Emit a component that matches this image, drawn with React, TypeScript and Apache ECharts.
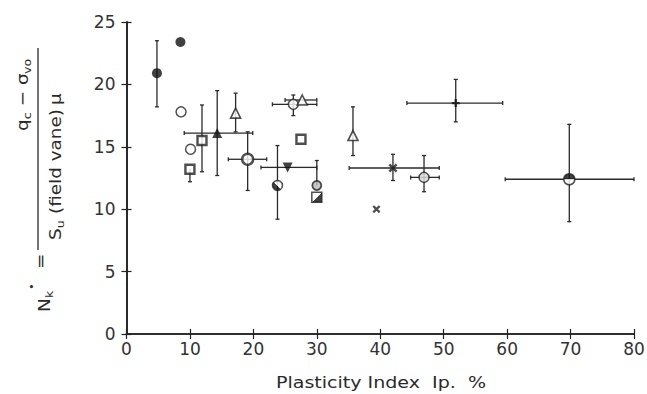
import React, { useEffect, useRef } from "react";
import * as echarts from "echarts";

// Plasticity index (x) and Nk* (y) for each plotted sample
const pointX = [4.8, 8.5, 8.6, 10.1, 10.0, 11.9, 14.3, 17.2, 19.1, 26.3, 27.7, 27.5, 25.4, 23.8, 30.0, 30.0, 35.7, 42.0, 46.9, 39.4, 51.9, 69.8];
const pointY = [20.9, 23.4, 17.8, 14.8, 13.2, 15.5, 16.1, 17.7, 14.0, 18.4, 18.75, 15.6, 13.35, 11.9, 11.9, 10.95, 15.9, 13.3, 12.55, 10.0, 18.5, 12.4];
// error ranges (null = no bar on that side)
const yLow = [18.2, null, null, null, 12.2, 13.0, 12.7, 16.2, 11.5, 17.5, null, null, null, 9.2, null, null, 14.3, 12.3, 11.4, null, 17.0, 9.0];
const yHigh = [23.5, null, null, null, null, 18.35, 19.5, 19.3, 16.2, 19.15, null, null, null, 15.1, 13.9, null, 18.2, 14.4, 14.3, null, 20.4, 16.8];
const xLow = [null, null, null, null, null, null, 9.1, null, 16.05, 23.0, 25.0, null, 21.2, null, null, null, null, 35.1, 44.8, null, 44.2, 59.7];
const xHigh = [null, null, null, null, null, null, 19.9, null, 22.1, 30.0, 30.0, null, 30.0, null, null, null, null, 49.3, 49.3, null, 59.3, 80];
const markerKinds = [
  "filledCircle", "filledCircle", "openCircle", "openCircle", "openSquare", "openSquare",
  "filledTriangle", "openTriangle", "boldCircle", "openCircle", "openTriangle", "openSquare",
  "filledDownTriangle", "halfCircle", "crossCircle", "halfSquare", "openTriangle", "filledX",
  "diamondCircle", "smallX", "plus", "topHalfCircle",
];

const xMin = 0, xMax = 80, xStep = 10;
const yMin = 0, yMax = 25, yStep = 5;
const xTitle = "Plasticity Index  Ip.  %";

const INK = "#222";
const FONT = "DejaVu Sans";

const X_PATH = "path://M0,2L2,0L5,3L8,0L10,2L7,5L10,8L8,10L5,7L2,10L0,8L3,5Z";
const PLUS_PATH = "path://M3.5,0H6.5V3.5H10V6.5H6.5V10H3.5V6.5H0V3.5H3.5Z";

function split(x0: number, y0: number, x1: number, y1: number, first: string, second: string) {
  return new echarts.graphic.LinearGradient(x0, y0, x1, y1, [
    { offset: 0, color: first },
    { offset: 0.5, color: first },
    { offset: 0.5, color: second },
    { offset: 1, color: second },
  ]);
}

function markerStyle(kind: string): any {
  switch (kind) {
    case "filledCircle":
      return { symbol: "circle", symbolSize: 10, itemStyle: { color: "#111" } };
    case "openCircle":
      return { symbol: "circle", symbolSize: 10, itemStyle: { color: "#fff", borderColor: INK, borderWidth: 1.5 } };
    case "boldCircle":
      return { symbol: "circle", symbolSize: 11, itemStyle: { color: "#fff", borderColor: INK, borderWidth: 2.4 } };
    case "crossCircle":
      return { symbol: "circle", symbolSize: 9, itemStyle: { color: "#bbb", borderColor: INK, borderWidth: 1.8 } };
    case "diamondCircle":
      return { symbol: "circle", symbolSize: 10, itemStyle: { color: "#ddd", borderColor: INK, borderWidth: 1.5 } };
    case "openSquare":
      return { symbol: "rect", symbolSize: 9, itemStyle: { color: "#fff", borderColor: INK, borderWidth: 2.4 } };
    case "halfSquare":
      return { symbol: "rect", symbolSize: 10, itemStyle: { color: split(0, 0, 1, 1, "#fff", "#111"), borderColor: INK, borderWidth: 1.5 } };
    case "filledTriangle":
      return { symbol: "triangle", symbolSize: 10, itemStyle: { color: "#111" } };
    case "openTriangle":
      return { symbol: "triangle", symbolSize: 10, itemStyle: { color: "#fff", borderColor: INK, borderWidth: 1.6 } };
    case "filledDownTriangle":
      return { symbol: "triangle", symbolRotate: 180, symbolSize: 10, itemStyle: { color: "#111" } };
    case "halfCircle":
      return { symbol: "circle", symbolSize: 10, itemStyle: { color: split(1, 0, 0, 1, "#fff", "#111"), borderColor: INK, borderWidth: 1.5 } };
    case "topHalfCircle":
      return { symbol: "circle", symbolSize: 11, itemStyle: { color: split(0, 0, 0, 1, "#111", "#fff"), borderColor: INK, borderWidth: 1.5 } };
    case "filledX":
      return { symbol: X_PATH, symbolSize: 9, itemStyle: { color: INK } };
    case "smallX":
      return { symbol: X_PATH, symbolSize: 8, itemStyle: { color: INK } };
    case "plus":
      return { symbol: PLUS_PATH, symbolSize: 8, itemStyle: { color: "#111" } };
    default:
      return { symbol: "circle", symbolSize: 8 };
  }
}

function txt(text: string, x: number, y: number, size: number, extra: any = {}) {
  return {
    type: "text",
    x,
    y,
    scaleX: 1.15,
    style: {
      text,
      fontFamily: FONT,
      fontSize: size,
      fill: "#2a2a2a",
      align: "left",
      verticalAlign: "middle",
      ...extra,
    },
  };
}

export default function App() {
  const ref = useRef<HTMLDivElement>(null);

  useEffect(() => {
    if (!ref.current) return;
    const chart = echarts.init(ref.current, undefined, { renderer: "svg" });

    const axisLine = { show: true, lineStyle: { color: INK, width: 1.6 } };
    const axisTick = { show: true, inside: true, length: 5, lineStyle: { color: INK, width: 1.2 } };
    const labelStyle = { fontFamily: FONT, fontSize: 17, color: "#333" };

    const scatterData = pointX.map((x, i) => ({ value: [x, pointY[i]], ...markerStyle(markerKinds[i]) }));

    const option: any = {
      animation: false,
      backgroundColor: "#fff",
      grid: { left: 126.5, right: 13, top: 22, bottom: 60, outerBoundsMode: "none" },
      xAxis: [
        {
          type: "value", min: xMin, max: xMax, interval: xStep, position: "bottom",
          axisLine, axisTick, splitLine: { show: false },
          axisLabel: { ...labelStyle, margin: 6 },
        },
        {
          type: "value", min: xMin, max: xMax, interval: xStep, position: "top",
          axisLine, axisTick, splitLine: { show: false }, axisLabel: { show: false },
        },
      ],
      yAxis: [
        {
          type: "value", min: yMin, max: yMax, interval: yStep, position: "left",
          axisLine, axisTick, splitLine: { show: false },
          axisLabel: { ...labelStyle, margin: 11 },
        },
        {
          type: "value", min: yMin, max: yMax, interval: yStep, position: "right",
          axisLine, axisTick, splitLine: { show: false }, axisLabel: { show: false },
        },
      ],
      series: [
        {
          type: "custom",
          xAxisIndex: 0,
          yAxisIndex: 0,
          data: pointX.map((x, i) => [x, pointY[i]]),
          z: 2,
          renderItem: (params: any, api: any) => {
            const i = params.dataIndex;
            const c = api.coord([pointX[i], pointY[i]]);
            const children: any[] = [];
            const ls = { stroke: "#2a2a2a", lineWidth: 1.3 };
            const cap = 2;
            const addV = (v: number | null) => {
              if (v == null) return;
              const p = api.coord([pointX[i], v]);
              children.push({ type: "line", shape: { x1: c[0], y1: c[1], x2: p[0], y2: p[1] }, style: ls });
              children.push({ type: "line", shape: { x1: p[0] - cap, y1: p[1], x2: p[0] + cap, y2: p[1] }, style: ls });
            };
            const addH = (v: number | null) => {
              if (v == null) return;
              const p = api.coord([v, pointY[i]]);
              children.push({ type: "line", shape: { x1: c[0], y1: c[1], x2: p[0], y2: p[1] }, style: ls });
              children.push({ type: "line", shape: { x1: p[0], y1: p[1] - cap, x2: p[0], y2: p[1] + cap }, style: ls });
            };
            addV(yLow[i]);
            addV(yHigh[i]);
            addH(xLow[i]);
            addH(xHigh[i]);
            return { type: "group", children };
          },
        },
        {
          type: "scatter",
          xAxisIndex: 0,
          yAxisIndex: 0,
          z: 3,
          data: scatterData,
        },
      ],
      graphic: [
        {
          type: "text",
          x: 381,
          y: 383,
          scaleX: 1.19,
          style: { text: xTitle, fontFamily: FONT, fontSize: 16, fill: "#2a2a2a", align: "center", verticalAlign: "middle" },
        },
        {
          type: "group",
          x: 38,
          y: 250,
          rotation: Math.PI / 2,
          children: [
            { type: "line", shape: { x1: 0, y1: 0, x2: 202, y2: 0 }, style: { stroke: "#2a2a2a", lineWidth: 1.3 } },
            // numerator q_c − σ_vo
            txt("q", 119, -16, 16),
            txt("c", 130.7, -11, 11),
            txt("−", 143.6, -16, 16),
            txt("σ", 165, -16, 16),
            txt("vo", 176, -11, 11),
            // denominator S_u (field vane) μ
            txt("S", 10, 17, 16),
            txt("u", 21.7, 22, 11),
            txt("(field vane)", 36, 17, 16),
            txt("μ", 145, 17, 16),
            // N_k* =
            txt("=", -19, 2, 16),
            txt("N", -62, 6, 16),
            txt("k", -48, 11, 11),
            txt("•", -40, -6, 10),
          ],
        },
      ],
    };

    chart.setOption(option);
    return () => chart.dispose();
  }, []);

  return <div ref={ref} style={{ position: "absolute", left: 0, top: 0, width: 647, height: 394 }} />;
}
